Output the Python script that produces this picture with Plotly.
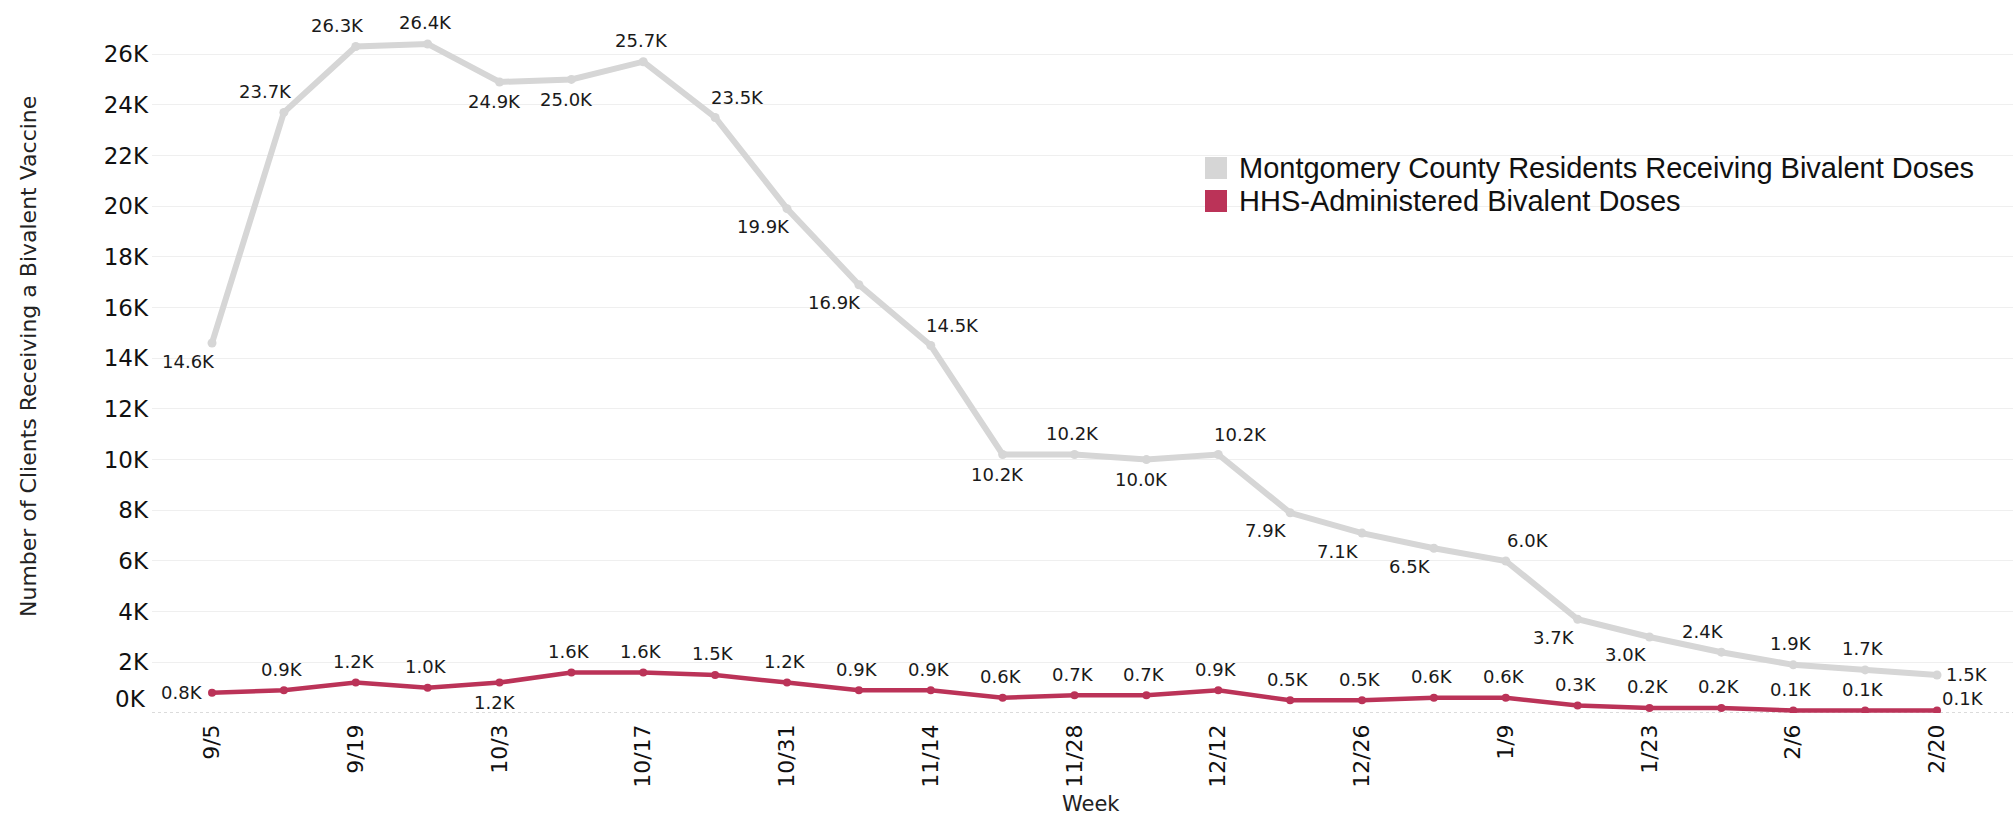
import plotly.graph_objects as go

weeks = ["9/5", "9/12", "9/19", "9/26", "10/3", "10/10", "10/17", "10/24", "10/31", "11/7",
         "11/14", "11/21", "11/28", "12/5", "12/12", "12/19", "12/26", "1/2", "1/9", "1/16",
         "1/23", "1/30", "2/6", "2/13", "2/20"]
county_k = [14.6, 23.7, 26.3, 26.4, 24.9, 25.0, 25.7, 23.5, 19.9, 16.9, 14.5, 10.2, 10.2, 10.0,
            10.2, 7.9, 7.1, 6.5, 6.0, 3.7, 3.0, 2.4, 1.9, 1.7, 1.5]
hhs_k = [0.8, 0.9, 1.2, 1.0, 1.2, 1.6, 1.6, 1.5, 1.2, 0.9, 0.9, 0.6, 0.7, 0.7, 0.9, 0.5, 0.5,
         0.6, 0.6, 0.3, 0.2, 0.2, 0.1, 0.1, 0.1]
series_names = ["Montgomery County Residents Receiving Bivalent Doses", "HHS-Administered Bivalent Doses"]
y_ticks_k = [2, 4, 6, 8, 10, 12, 14, 16, 18, 20, 22, 24, 26]

# ---- style ----
GRAY = "#d6d6d6"
RED = "#bb3358"
W, H = 2013, 818
ML, MR, MT, MB = 152, 0, 10, 105
PW, PH = W - ML - MR, H - MT - MB

# label placement codes -> pixel offsets (style only)
OFF = {"bl": (-24, -18), "tl": (-18, 21), "t": (-2, 21), "b": (-5, -20), "tr": (22, 20),
       "r": (30, 0), "l": (-30, 0), "rt": (26, 12)}
county_pos = ["bl", "tl", "tl", "t", "b", "b", "t", "tr", "bl", "bl", "tr", "b", "t", "b", "tr",
              "bl", "bl", "bl", "tr", "bl", "bl", "tl", "t", "t", "r"]
hhs_pos = ["l", "t", "t", "t", "b"] + ["t"] * 19 + ["rt"]

x_idx = list(range(len(weeks)))
fig = go.Figure()
fig.add_trace(go.Scatter(
    x=x_idx, y=county_k, mode="lines+markers", name=series_names[0],
    line=dict(color=GRAY, width=6), marker=dict(color=GRAY, size=9), showlegend=False))
fig.add_trace(go.Scatter(
    x=x_idx, y=hhs_k, mode="lines+markers", name=series_names[1],
    line=dict(color=RED, width=4.5), marker=dict(color=RED, size=8), showlegend=False))

annotations = []
for vals, poss in ((county_k, county_pos), (hhs_k, hhs_pos)):
    for xi, v, p in zip(x_idx, vals, poss):
        dx, dy = OFF[p]
        annotations.append(dict(x=xi, y=v, xref="x", yref="y", text=f"{v:.1f}K", showarrow=False,
                                xshift=dx, yshift=dy, xanchor="center", yanchor="middle",
                                font=dict(family="DejaVu Sans", size=18, color="#1a1a1a")))


def px_x(p):
    return (p - ML) / PW


def px_y(p):
    return (H - MB - p) / PH


shapes = [
    dict(type="line", xref="paper", yref="y", x0=0, x1=1, y0=0, y1=0,
         line=dict(color="#d0d0d0", width=1.5, dash="dot"), layer="below"),
    dict(type="rect", xref="paper", yref="paper", x0=px_x(1192), x1=1, y0=px_y(222), y1=px_y(146),
         fillcolor="white", line=dict(width=0), layer="below"),
    dict(type="rect", xref="paper", yref="paper", x0=px_x(1205), x1=px_x(1227), y0=px_y(179), y1=px_y(157),
         fillcolor=GRAY, line=dict(width=0)),
    dict(type="rect", xref="paper", yref="paper", x0=px_x(1205), x1=px_x(1227), y0=px_y(212), y1=px_y(190),
         fillcolor=RED, line=dict(width=0)),
]
annotations += [
    dict(xref="paper", yref="paper", x=px_x(1237), y=px_y(168), text=series_names[0], showarrow=False,
         xanchor="left", yanchor="middle", font=dict(family="Liberation Sans", size=29, color="#111")),
    dict(xref="paper", yref="paper", x=px_x(1237), y=px_y(201), text=series_names[1], showarrow=False,
         xanchor="left", yanchor="middle", font=dict(family="Liberation Sans", size=29, color="#111")),
    dict(xref="paper", yref="y", x=0, y=0, yshift=14, xshift=-4, text="0K", showarrow=False,
         xanchor="right", yanchor="middle", font=dict(family="DejaVu Sans", size=23, color="#111")),
    dict(xref="paper", yref="paper", x=px_x(28), y=px_y(357), text="Number of Clients Receiving a Bivalent Vaccine",
         textangle=-90, showarrow=False, xanchor="center", yanchor="middle",
         font=dict(family="DejaVu Sans", size=22, color="#222")),
    dict(xref="paper", yref="paper", x=px_x(1091), y=px_y(804), text="Week", showarrow=False,
         xanchor="center", yanchor="middle", font=dict(family="DejaVu Sans", size=21, color="#222")),
]

fig.update_layout(
    width=W, height=H, margin=dict(l=ML, r=MR, t=MT, b=MB, autoexpand=False),
    plot_bgcolor="white", paper_bgcolor="white", shapes=shapes, annotations=annotations,
    xaxis=dict(range=[-0.835, 25.057], tickmode="array", tickvals=x_idx[::2], ticktext=weeks[::2],
               tickangle=-90, showgrid=False, zeroline=False, showline=False, ticks="",
               ticklabelstandoff=6, tickfont=dict(family="DejaVu Sans", size=22, color="#111")),
    yaxis=dict(range=[0, 27.74], tickmode="array", tickvals=y_ticks_k, ticktext=[f"{v}K" for v in y_ticks_k],
               showgrid=True, gridcolor="#efefef", gridwidth=1, zeroline=False, showline=False, ticks="",
               ticklabelstandoff=3, tickfont=dict(family="DejaVu Sans", size=23, color="#111")),
)
fig.write_html("out.html", config={"displayModeBar": False},
               post_script="document.body.style.margin='0';document.body.style.overflow='hidden';")
